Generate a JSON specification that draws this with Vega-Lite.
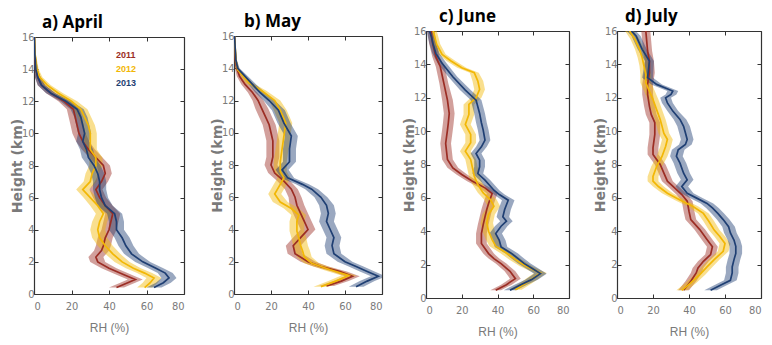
{
"$schema": "https://vega.github.io/schema/vega-lite/v6.json",
"background": "white",
"padding": {"left": 10, "top": 8, "right": 5, "bottom": 3},
"spacing": 19,
"data": {"values": [
{"m":"Apr","yr":"2011","h":0.4,"v":44,"e":4},{"m":"Apr","yr":"2011","h":0.7,"v":50,"e":4},{"m":"Apr","yr":"2011","h":0.9,"v":54,"e":4},{"m":"Apr","yr":"2011","h":1.2,"v":48,"e":4},{"m":"Apr","yr":"2011","h":1.6,"v":40,"e":4},{"m":"Apr","yr":"2011","h":2.0,"v":34,"e":4},{"m":"Apr","yr":"2011","h":2.3,"v":33,"e":4},{"m":"Apr","yr":"2011","h":2.7,"v":36,"e":4},{"m":"Apr","yr":"2011","h":3.0,"v":37,"e":4},{"m":"Apr","yr":"2011","h":3.5,"v":38,"e":4},{"m":"Apr","yr":"2011","h":4.0,"v":40,"e":4},{"m":"Apr","yr":"2011","h":4.5,"v":41,"e":4},{"m":"Apr","yr":"2011","h":5.0,"v":42,"e":4},{"m":"Apr","yr":"2011","h":5.5,"v":38,"e":4},{"m":"Apr","yr":"2011","h":6.0,"v":35,"e":3.5},{"m":"Apr","yr":"2011","h":6.5,"v":33,"e":3.5},{"m":"Apr","yr":"2011","h":7.0,"v":36,"e":3.5},{"m":"Apr","yr":"2011","h":7.5,"v":38,"e":3.5},{"m":"Apr","yr":"2011","h":8.0,"v":37,"e":3.5},{"m":"Apr","yr":"2011","h":8.5,"v":33,"e":3.5},{"m":"Apr","yr":"2011","h":9.0,"v":29,"e":3.5},{"m":"Apr","yr":"2011","h":9.5,"v":26,"e":3.5},{"m":"Apr","yr":"2011","h":10.0,"v":24,"e":3.5},{"m":"Apr","yr":"2011","h":10.5,"v":23,"e":3.5},{"m":"Apr","yr":"2011","h":11.0,"v":22,"e":3.5},{"m":"Apr","yr":"2011","h":11.5,"v":21,"e":3.5},{"m":"Apr","yr":"2011","h":12.0,"v":16,"e":3},{"m":"Apr","yr":"2011","h":12.5,"v":9,"e":2.5},{"m":"Apr","yr":"2011","h":13.0,"v":4,"e":2},{"m":"Apr","yr":"2011","h":13.5,"v":2,"e":1.5},{"m":"Apr","yr":"2011","h":14.0,"v":1,"e":1},{"m":"Apr","yr":"2011","h":15.0,"v":0.4,"e":0.4},{"m":"Apr","yr":"2011","h":16.0,"v":0.2,"e":0.2},
{"m":"Apr","yr":"2012","h":0.4,"v":59,"e":4},{"m":"Apr","yr":"2012","h":0.7,"v":62,"e":4},{"m":"Apr","yr":"2012","h":1.0,"v":64,"e":4},{"m":"Apr","yr":"2012","h":1.3,"v":59,"e":4},{"m":"Apr","yr":"2012","h":1.6,"v":53,"e":4},{"m":"Apr","yr":"2012","h":2.0,"v":47,"e":4},{"m":"Apr","yr":"2012","h":2.5,"v":42,"e":4},{"m":"Apr","yr":"2012","h":3.0,"v":38,"e":4},{"m":"Apr","yr":"2012","h":3.5,"v":35,"e":4},{"m":"Apr","yr":"2012","h":4.0,"v":34,"e":4},{"m":"Apr","yr":"2012","h":4.5,"v":35,"e":4},{"m":"Apr","yr":"2012","h":5.0,"v":37,"e":4},{"m":"Apr","yr":"2012","h":5.5,"v":34,"e":4},{"m":"Apr","yr":"2012","h":6.0,"v":30,"e":3.5},{"m":"Apr","yr":"2012","h":6.5,"v":26,"e":3.5},{"m":"Apr","yr":"2012","h":7.0,"v":30,"e":3.5},{"m":"Apr","yr":"2012","h":7.5,"v":31,"e":3.5},{"m":"Apr","yr":"2012","h":8.0,"v":33,"e":3.5},{"m":"Apr","yr":"2012","h":8.5,"v":33,"e":3.5},{"m":"Apr","yr":"2012","h":9.0,"v":30,"e":3.5},{"m":"Apr","yr":"2012","h":9.5,"v":30,"e":3.5},{"m":"Apr","yr":"2012","h":10.0,"v":30,"e":3.5},{"m":"Apr","yr":"2012","h":10.5,"v":29,"e":3.5},{"m":"Apr","yr":"2012","h":11.0,"v":27,"e":3.5},{"m":"Apr","yr":"2012","h":11.5,"v":25,"e":3.5},{"m":"Apr","yr":"2012","h":12.0,"v":20,"e":3},{"m":"Apr","yr":"2012","h":12.5,"v":13,"e":2.5},{"m":"Apr","yr":"2012","h":13.0,"v":7,"e":2},{"m":"Apr","yr":"2012","h":13.5,"v":3,"e":1.5},{"m":"Apr","yr":"2012","h":14.0,"v":1.5,"e":1},{"m":"Apr","yr":"2012","h":15.0,"v":0.5,"e":0.4},{"m":"Apr","yr":"2012","h":16.0,"v":0.3,"e":0.2},
{"m":"Apr","yr":"2013","h":0.4,"v":64,"e":4},{"m":"Apr","yr":"2013","h":0.7,"v":69,"e":4},{"m":"Apr","yr":"2013","h":1.0,"v":72,"e":4},{"m":"Apr","yr":"2013","h":1.3,"v":70,"e":4},{"m":"Apr","yr":"2013","h":1.6,"v":65,"e":4},{"m":"Apr","yr":"2013","h":2.0,"v":58,"e":4},{"m":"Apr","yr":"2013","h":2.5,"v":52,"e":4},{"m":"Apr","yr":"2013","h":3.0,"v":49,"e":4},{"m":"Apr","yr":"2013","h":3.5,"v":47,"e":4},{"m":"Apr","yr":"2013","h":4.0,"v":44,"e":4},{"m":"Apr","yr":"2013","h":4.5,"v":44,"e":4},{"m":"Apr","yr":"2013","h":5.0,"v":43,"e":4},{"m":"Apr","yr":"2013","h":5.5,"v":38,"e":4},{"m":"Apr","yr":"2013","h":6.0,"v":36,"e":3.5},{"m":"Apr","yr":"2013","h":6.5,"v":35,"e":3.5},{"m":"Apr","yr":"2013","h":7.0,"v":35,"e":3.5},{"m":"Apr","yr":"2013","h":7.5,"v":34,"e":3.5},{"m":"Apr","yr":"2013","h":8.0,"v":32,"e":3.5},{"m":"Apr","yr":"2013","h":8.5,"v":29,"e":3.5},{"m":"Apr","yr":"2013","h":9.0,"v":28,"e":3.5},{"m":"Apr","yr":"2013","h":9.5,"v":26,"e":3.5},{"m":"Apr","yr":"2013","h":10.0,"v":27,"e":3.5},{"m":"Apr","yr":"2013","h":10.5,"v":26,"e":3.5},{"m":"Apr","yr":"2013","h":11.0,"v":25,"e":3.5},{"m":"Apr","yr":"2013","h":11.5,"v":23,"e":3.5},{"m":"Apr","yr":"2013","h":12.0,"v":17,"e":3},{"m":"Apr","yr":"2013","h":12.5,"v":9,"e":2.5},{"m":"Apr","yr":"2013","h":13.0,"v":4,"e":2},{"m":"Apr","yr":"2013","h":13.5,"v":2,"e":1.5},{"m":"Apr","yr":"2013","h":14.0,"v":1,"e":1},{"m":"Apr","yr":"2013","h":15.0,"v":0.4,"e":0.4},{"m":"Apr","yr":"2013","h":16.0,"v":0.2,"e":0.2},
{"m":"May","yr":"2011","h":0.5,"v":50,"e":4},{"m":"May","yr":"2011","h":0.8,"v":58,"e":4},{"m":"May","yr":"2011","h":1.1,"v":64,"e":4},{"m":"May","yr":"2011","h":1.4,"v":57,"e":4},{"m":"May","yr":"2011","h":1.7,"v":47,"e":4},{"m":"May","yr":"2011","h":2.0,"v":40,"e":4},{"m":"May","yr":"2011","h":2.5,"v":33,"e":4},{"m":"May","yr":"2011","h":3.0,"v":32,"e":4},{"m":"May","yr":"2011","h":3.5,"v":36,"e":4},{"m":"May","yr":"2011","h":4.0,"v":40,"e":4},{"m":"May","yr":"2011","h":4.5,"v":38,"e":4},{"m":"May","yr":"2011","h":5.0,"v":36,"e":4},{"m":"May","yr":"2011","h":5.5,"v":34,"e":4},{"m":"May","yr":"2011","h":6.0,"v":33,"e":3.5},{"m":"May","yr":"2011","h":6.5,"v":31,"e":3.5},{"m":"May","yr":"2011","h":7.0,"v":27,"e":3.5},{"m":"May","yr":"2011","h":7.5,"v":22,"e":3.5},{"m":"May","yr":"2011","h":8.0,"v":20,"e":3.5},{"m":"May","yr":"2011","h":8.5,"v":21,"e":3.5},{"m":"May","yr":"2011","h":9.0,"v":21,"e":3.5},{"m":"May","yr":"2011","h":9.5,"v":21,"e":3.5},{"m":"May","yr":"2011","h":10.0,"v":20,"e":3.5},{"m":"May","yr":"2011","h":10.5,"v":19,"e":3.5},{"m":"May","yr":"2011","h":11.0,"v":17,"e":3.5},{"m":"May","yr":"2011","h":11.5,"v":15,"e":3.5},{"m":"May","yr":"2011","h":12.0,"v":13,"e":3},{"m":"May","yr":"2011","h":12.5,"v":10,"e":2.5},{"m":"May","yr":"2011","h":13.0,"v":6,"e":2},{"m":"May","yr":"2011","h":13.5,"v":3,"e":1.5},{"m":"May","yr":"2011","h":14.0,"v":1.5,"e":1},{"m":"May","yr":"2011","h":14.5,"v":0.8,"e":0.6},{"m":"May","yr":"2011","h":16.0,"v":0.3,"e":0.2},
{"m":"May","yr":"2012","h":0.45,"v":47,"e":4},{"m":"May","yr":"2012","h":0.8,"v":55,"e":4},{"m":"May","yr":"2012","h":1.15,"v":62,"e":4},{"m":"May","yr":"2012","h":1.5,"v":52,"e":4},{"m":"May","yr":"2012","h":1.9,"v":42,"e":4},{"m":"May","yr":"2012","h":2.3,"v":38,"e":4},{"m":"May","yr":"2012","h":2.7,"v":37,"e":4},{"m":"May","yr":"2012","h":3.0,"v":36,"e":4},{"m":"May","yr":"2012","h":3.5,"v":35,"e":4},{"m":"May","yr":"2012","h":3.9,"v":34,"e":4},{"m":"May","yr":"2012","h":4.5,"v":34,"e":4},{"m":"May","yr":"2012","h":4.9,"v":35,"e":4},{"m":"May","yr":"2012","h":5.3,"v":31,"e":4},{"m":"May","yr":"2012","h":5.7,"v":25,"e":4},{"m":"May","yr":"2012","h":6.2,"v":22,"e":3.5},{"m":"May","yr":"2012","h":6.8,"v":25,"e":3.5},{"m":"May","yr":"2012","h":7.2,"v":27,"e":3.5},{"m":"May","yr":"2012","h":7.6,"v":25,"e":3.5},{"m":"May","yr":"2012","h":8.2,"v":25,"e":3.5},{"m":"May","yr":"2012","h":9.0,"v":26,"e":3.5},{"m":"May","yr":"2012","h":9.8,"v":27,"e":3.5},{"m":"May","yr":"2012","h":10.6,"v":28,"e":3.5},{"m":"May","yr":"2012","h":11.4,"v":25,"e":3.5},{"m":"May","yr":"2012","h":12.0,"v":22,"e":3},{"m":"May","yr":"2012","h":12.6,"v":15,"e":2.5},{"m":"May","yr":"2012","h":13.1,"v":8,"e":2},{"m":"May","yr":"2012","h":13.5,"v":5,"e":1.5},{"m":"May","yr":"2012","h":13.9,"v":2,"e":1},{"m":"May","yr":"2012","h":14.5,"v":1,"e":0.6},{"m":"May","yr":"2012","h":16.0,"v":0.3,"e":0.2},
{"m":"May","yr":"2013","h":0.45,"v":66,"e":4},{"m":"May","yr":"2013","h":0.8,"v":72,"e":4},{"m":"May","yr":"2013","h":1.1,"v":78,"e":4},{"m":"May","yr":"2013","h":1.4,"v":72,"e":4},{"m":"May","yr":"2013","h":1.7,"v":66,"e":4},{"m":"May","yr":"2013","h":2.0,"v":60,"e":4},{"m":"May","yr":"2013","h":2.5,"v":54,"e":4},{"m":"May","yr":"2013","h":3.0,"v":53,"e":4},{"m":"May","yr":"2013","h":3.5,"v":54,"e":4},{"m":"May","yr":"2013","h":4.0,"v":52,"e":4},{"m":"May","yr":"2013","h":4.5,"v":50,"e":4},{"m":"May","yr":"2013","h":5.0,"v":51,"e":4},{"m":"May","yr":"2013","h":5.5,"v":50,"e":4},{"m":"May","yr":"2013","h":6.0,"v":47,"e":3.5},{"m":"May","yr":"2013","h":6.5,"v":42,"e":3.5},{"m":"May","yr":"2013","h":6.8,"v":37,"e":3.5},{"m":"May","yr":"2013","h":7.2,"v":29,"e":3.5},{"m":"May","yr":"2013","h":7.7,"v":26,"e":3.5},{"m":"May","yr":"2013","h":8.2,"v":30,"e":3.5},{"m":"May","yr":"2013","h":9.0,"v":30,"e":3.5},{"m":"May","yr":"2013","h":9.8,"v":31,"e":3.5},{"m":"May","yr":"2013","h":10.6,"v":27,"e":3.5},{"m":"May","yr":"2013","h":11.4,"v":24,"e":3.5},{"m":"May","yr":"2013","h":12.0,"v":19,"e":3},{"m":"May","yr":"2013","h":12.5,"v":14,"e":2.5},{"m":"May","yr":"2013","h":13.0,"v":10,"e":2},{"m":"May","yr":"2013","h":13.5,"v":6,"e":1.5},{"m":"May","yr":"2013","h":14.0,"v":2,"e":1},{"m":"May","yr":"2013","h":14.5,"v":1,"e":0.6},{"m":"May","yr":"2013","h":16.0,"v":0.3,"e":0.2},
{"m":"Jun","yr":"2011","h":0.46,"v":39,"e":3},{"m":"Jun","yr":"2011","h":0.8,"v":45,"e":3},{"m":"Jun","yr":"2011","h":1.16,"v":50,"e":3},{"m":"Jun","yr":"2011","h":1.6,"v":47,"e":3},{"m":"Jun","yr":"2011","h":2.06,"v":42,"e":3},{"m":"Jun","yr":"2011","h":2.36,"v":38,"e":3},{"m":"Jun","yr":"2011","h":2.66,"v":35,"e":3},{"m":"Jun","yr":"2011","h":3.26,"v":31,"e":3},{"m":"Jun","yr":"2011","h":3.86,"v":31,"e":3},{"m":"Jun","yr":"2011","h":4.4,"v":32,"e":3},{"m":"Jun","yr":"2011","h":4.86,"v":33,"e":3},{"m":"Jun","yr":"2011","h":5.3,"v":34,"e":3},{"m":"Jun","yr":"2011","h":5.66,"v":35,"e":3},{"m":"Jun","yr":"2011","h":6.26,"v":37,"e":3},{"m":"Jun","yr":"2011","h":6.6,"v":33,"e":3},{"m":"Jun","yr":"2011","h":7.0,"v":26,"e":3},{"m":"Jun","yr":"2011","h":7.4,"v":20,"e":3},{"m":"Jun","yr":"2011","h":7.8,"v":15,"e":3},{"m":"Jun","yr":"2011","h":8.3,"v":12,"e":3},{"m":"Jun","yr":"2011","h":9.26,"v":11,"e":3},{"m":"Jun","yr":"2011","h":10.06,"v":12,"e":3},{"m":"Jun","yr":"2011","h":10.5,"v":12.5,"e":3},{"m":"Jun","yr":"2011","h":11.06,"v":13,"e":3},{"m":"Jun","yr":"2011","h":11.86,"v":12,"e":3},{"m":"Jun","yr":"2011","h":12.86,"v":10,"e":2.5},{"m":"Jun","yr":"2011","h":13.86,"v":8,"e":2.5},{"m":"Jun","yr":"2011","h":14.46,"v":5.5,"e":2},{"m":"Jun","yr":"2011","h":15.26,"v":3.7,"e":2},{"m":"Jun","yr":"2011","h":16.0,"v":2.8,"e":2},
{"m":"Jun","yr":"2012","h":0.5,"v":50,"e":3.5},{"m":"Jun","yr":"2012","h":0.9,"v":56,"e":3.5},{"m":"Jun","yr":"2012","h":1.2,"v":60,"e":3.5},{"m":"Jun","yr":"2012","h":1.5,"v":64,"e":3.5},{"m":"Jun","yr":"2012","h":1.9,"v":56,"e":3.5},{"m":"Jun","yr":"2012","h":2.3,"v":50,"e":3.5},{"m":"Jun","yr":"2012","h":2.7,"v":45,"e":3.5},{"m":"Jun","yr":"2012","h":3.1,"v":39,"e":3.5},{"m":"Jun","yr":"2012","h":3.5,"v":37,"e":3.5},{"m":"Jun","yr":"2012","h":4.0,"v":35,"e":3.5},{"m":"Jun","yr":"2012","h":4.5,"v":34,"e":3.5},{"m":"Jun","yr":"2012","h":5.0,"v":35,"e":3.5},{"m":"Jun","yr":"2012","h":5.5,"v":38,"e":3.5},{"m":"Jun","yr":"2012","h":5.9,"v":36,"e":3.5},{"m":"Jun","yr":"2012","h":6.3,"v":32,"e":3},{"m":"Jun","yr":"2012","h":6.8,"v":29,"e":3},{"m":"Jun","yr":"2012","h":7.3,"v":27,"e":3},{"m":"Jun","yr":"2012","h":7.8,"v":26,"e":3},{"m":"Jun","yr":"2012","h":8.3,"v":25,"e":3},{"m":"Jun","yr":"2012","h":8.8,"v":22,"e":3},{"m":"Jun","yr":"2012","h":9.3,"v":25,"e":3},{"m":"Jun","yr":"2012","h":9.8,"v":25,"e":3},{"m":"Jun","yr":"2012","h":10.4,"v":22,"e":3},{"m":"Jun","yr":"2012","h":11.0,"v":24,"e":3},{"m":"Jun","yr":"2012","h":11.6,"v":24,"e":3},{"m":"Jun","yr":"2012","h":12.0,"v":28,"e":3},{"m":"Jun","yr":"2012","h":12.5,"v":30,"e":3},{"m":"Jun","yr":"2012","h":13.0,"v":29,"e":3},{"m":"Jun","yr":"2012","h":13.5,"v":27,"e":2.5},{"m":"Jun","yr":"2012","h":13.8,"v":20,"e":2.5},{"m":"Jun","yr":"2012","h":14.2,"v":14,"e":2.5},{"m":"Jun","yr":"2012","h":14.6,"v":9,"e":2},{"m":"Jun","yr":"2012","h":15.2,"v":6,"e":2},{"m":"Jun","yr":"2012","h":16.0,"v":4,"e":2},
{"m":"Jun","yr":"2013","h":0.46,"v":47,"e":3.5},{"m":"Jun","yr":"2013","h":0.8,"v":53,"e":3.5},{"m":"Jun","yr":"2013","h":1.1,"v":59,"e":3.5},{"m":"Jun","yr":"2013","h":1.46,"v":64,"e":3.5},{"m":"Jun","yr":"2013","h":1.8,"v":59,"e":3.5},{"m":"Jun","yr":"2013","h":2.06,"v":55,"e":3.5},{"m":"Jun","yr":"2013","h":2.4,"v":51,"e":3.5},{"m":"Jun","yr":"2013","h":2.66,"v":48,"e":3.5},{"m":"Jun","yr":"2013","h":3.06,"v":42,"e":3.5},{"m":"Jun","yr":"2013","h":3.46,"v":41,"e":3.5},{"m":"Jun","yr":"2013","h":3.86,"v":39,"e":3.5},{"m":"Jun","yr":"2013","h":4.3,"v":42,"e":3.5},{"m":"Jun","yr":"2013","h":4.6,"v":45,"e":3.5},{"m":"Jun","yr":"2013","h":4.86,"v":43,"e":3.5},{"m":"Jun","yr":"2013","h":5.3,"v":44,"e":3.5},{"m":"Jun","yr":"2013","h":5.86,"v":46,"e":3.5},{"m":"Jun","yr":"2013","h":6.2,"v":41,"e":3},{"m":"Jun","yr":"2013","h":6.46,"v":38,"e":3},{"m":"Jun","yr":"2013","h":7.06,"v":33,"e":3},{"m":"Jun","yr":"2013","h":7.46,"v":29,"e":3},{"m":"Jun","yr":"2013","h":7.86,"v":30,"e":3},{"m":"Jun","yr":"2013","h":8.26,"v":30,"e":3},{"m":"Jun","yr":"2013","h":8.66,"v":28,"e":3},{"m":"Jun","yr":"2013","h":9.06,"v":31,"e":3},{"m":"Jun","yr":"2013","h":9.46,"v":33,"e":3},{"m":"Jun","yr":"2013","h":10.06,"v":32,"e":3},{"m":"Jun","yr":"2013","h":10.5,"v":31,"e":3},{"m":"Jun","yr":"2013","h":11.06,"v":30,"e":3},{"m":"Jun","yr":"2013","h":11.46,"v":29,"e":3},{"m":"Jun","yr":"2013","h":11.86,"v":28,"e":3},{"m":"Jun","yr":"2013","h":12.46,"v":22,"e":3},{"m":"Jun","yr":"2013","h":13.26,"v":15,"e":2.5},{"m":"Jun","yr":"2013","h":14.06,"v":9,"e":2.5},{"m":"Jun","yr":"2013","h":14.66,"v":5.5,"e":2},{"m":"Jun","yr":"2013","h":15.2,"v":4,"e":2},{"m":"Jun","yr":"2013","h":15.66,"v":3,"e":2},{"m":"Jun","yr":"2013","h":16.0,"v":2,"e":1.5},
{"m":"Jul","yr":"2011","h":0.46,"v":37,"e":3},{"m":"Jul","yr":"2011","h":1.0,"v":41,"e":3},{"m":"Jul","yr":"2011","h":1.5,"v":44,"e":3},{"m":"Jul","yr":"2011","h":1.8,"v":45,"e":3},{"m":"Jul","yr":"2011","h":2.2,"v":48,"e":3},{"m":"Jul","yr":"2011","h":2.6,"v":52,"e":3},{"m":"Jul","yr":"2011","h":3.07,"v":53,"e":3},{"m":"Jul","yr":"2011","h":3.5,"v":50,"e":3},{"m":"Jul","yr":"2011","h":4.1,"v":46,"e":3},{"m":"Jul","yr":"2011","h":4.7,"v":41,"e":3},{"m":"Jul","yr":"2011","h":5.2,"v":40,"e":3},{"m":"Jul","yr":"2011","h":5.8,"v":39,"e":3},{"m":"Jul","yr":"2011","h":6.2,"v":36,"e":3},{"m":"Jul","yr":"2011","h":6.6,"v":32,"e":3},{"m":"Jul","yr":"2011","h":7.0,"v":28,"e":3},{"m":"Jul","yr":"2011","h":7.5,"v":26,"e":3},{"m":"Jul","yr":"2011","h":8.0,"v":24,"e":3},{"m":"Jul","yr":"2011","h":8.6,"v":20,"e":3},{"m":"Jul","yr":"2011","h":9.0,"v":20,"e":3},{"m":"Jul","yr":"2011","h":9.8,"v":21,"e":3},{"m":"Jul","yr":"2011","h":10.5,"v":21,"e":3},{"m":"Jul","yr":"2011","h":11.0,"v":19,"e":3},{"m":"Jul","yr":"2011","h":11.5,"v":18,"e":3},{"m":"Jul","yr":"2011","h":12.2,"v":17,"e":3},{"m":"Jul","yr":"2011","h":12.8,"v":17,"e":3},{"m":"Jul","yr":"2011","h":13.5,"v":18,"e":3},{"m":"Jul","yr":"2011","h":14.2,"v":18,"e":2.5},{"m":"Jul","yr":"2011","h":14.8,"v":17,"e":2.5},{"m":"Jul","yr":"2011","h":15.4,"v":16.5,"e":2.5},{"m":"Jul","yr":"2011","h":16.0,"v":16,"e":2.5},
{"m":"Jul","yr":"2012","h":0.46,"v":36,"e":3},{"m":"Jul","yr":"2012","h":0.9,"v":41,"e":3},{"m":"Jul","yr":"2012","h":1.4,"v":46,"e":3},{"m":"Jul","yr":"2012","h":1.86,"v":50,"e":3},{"m":"Jul","yr":"2012","h":2.3,"v":54,"e":3},{"m":"Jul","yr":"2012","h":2.8,"v":59,"e":3},{"m":"Jul","yr":"2012","h":3.27,"v":60,"e":3},{"m":"Jul","yr":"2012","h":3.7,"v":57,"e":3},{"m":"Jul","yr":"2012","h":4.07,"v":54,"e":3},{"m":"Jul","yr":"2012","h":4.6,"v":51,"e":3},{"m":"Jul","yr":"2012","h":5.07,"v":48,"e":3},{"m":"Jul","yr":"2012","h":5.5,"v":42,"e":3},{"m":"Jul","yr":"2012","h":5.87,"v":35,"e":3},{"m":"Jul","yr":"2012","h":6.28,"v":28,"e":3},{"m":"Jul","yr":"2012","h":6.68,"v":23,"e":3},{"m":"Jul","yr":"2012","h":7.0,"v":20,"e":3},{"m":"Jul","yr":"2012","h":7.28,"v":20,"e":3},{"m":"Jul","yr":"2012","h":7.88,"v":22,"e":3},{"m":"Jul","yr":"2012","h":8.48,"v":25,"e":3},{"m":"Jul","yr":"2012","h":9.08,"v":27,"e":3},{"m":"Jul","yr":"2012","h":9.5,"v":28,"e":3},{"m":"Jul","yr":"2012","h":9.88,"v":26,"e":3},{"m":"Jul","yr":"2012","h":10.3,"v":25,"e":3},{"m":"Jul","yr":"2012","h":10.69,"v":24,"e":3},{"m":"Jul","yr":"2012","h":11.29,"v":22,"e":3},{"m":"Jul","yr":"2012","h":11.89,"v":20,"e":3},{"m":"Jul","yr":"2012","h":12.4,"v":18,"e":3},{"m":"Jul","yr":"2012","h":12.9,"v":16,"e":3},{"m":"Jul","yr":"2012","h":13.4,"v":16,"e":3},{"m":"Jul","yr":"2012","h":13.9,"v":15,"e":2.5},{"m":"Jul","yr":"2012","h":14.4,"v":14,"e":2.5},{"m":"Jul","yr":"2012","h":14.9,"v":12.5,"e":2.5},{"m":"Jul","yr":"2012","h":15.5,"v":10,"e":2.5},{"m":"Jul","yr":"2012","h":16.0,"v":7,"e":2.5},
{"m":"Jul","yr":"2013","h":0.46,"v":52,"e":3.5},{"m":"Jul","yr":"2013","h":0.8,"v":58,"e":3.5},{"m":"Jul","yr":"2013","h":1.06,"v":63,"e":3.5},{"m":"Jul","yr":"2013","h":1.5,"v":64,"e":3.5},{"m":"Jul","yr":"2013","h":1.86,"v":64,"e":3.5},{"m":"Jul","yr":"2013","h":2.3,"v":65,"e":3.5},{"m":"Jul","yr":"2013","h":2.67,"v":66,"e":3.5},{"m":"Jul","yr":"2013","h":3.1,"v":66,"e":3.5},{"m":"Jul","yr":"2013","h":3.47,"v":65,"e":3.5},{"m":"Jul","yr":"2013","h":3.9,"v":63,"e":3.5},{"m":"Jul","yr":"2013","h":4.27,"v":62,"e":3.5},{"m":"Jul","yr":"2013","h":4.7,"v":59,"e":3.5},{"m":"Jul","yr":"2013","h":5.07,"v":56,"e":3.5},{"m":"Jul","yr":"2013","h":5.4,"v":53,"e":3.5},{"m":"Jul","yr":"2013","h":5.67,"v":50,"e":3.5},{"m":"Jul","yr":"2013","h":6.0,"v":44,"e":3.5},{"m":"Jul","yr":"2013","h":6.28,"v":39,"e":3.5},{"m":"Jul","yr":"2013","h":6.68,"v":36,"e":3.5},{"m":"Jul","yr":"2013","h":7.08,"v":39,"e":3.5},{"m":"Jul","yr":"2013","h":7.48,"v":37,"e":3.5},{"m":"Jul","yr":"2013","h":8.08,"v":35,"e":3.5},{"m":"Jul","yr":"2013","h":8.5,"v":33,"e":3.5},{"m":"Jul","yr":"2013","h":8.88,"v":34,"e":3.5},{"m":"Jul","yr":"2013","h":9.2,"v":38,"e":3.5},{"m":"Jul","yr":"2013","h":9.5,"v":39,"e":3.5},{"m":"Jul","yr":"2013","h":9.9,"v":38,"e":3.5},{"m":"Jul","yr":"2013","h":10.29,"v":37,"e":3.5},{"m":"Jul","yr":"2013","h":10.7,"v":35,"e":3.5},{"m":"Jul","yr":"2013","h":11.2,"v":31,"e":3},{"m":"Jul","yr":"2013","h":11.69,"v":28,"e":3},{"m":"Jul","yr":"2013","h":12.0,"v":27,"e":3},{"m":"Jul","yr":"2013","h":12.2,"v":30,"e":3},{"m":"Jul","yr":"2013","h":12.4,"v":31,"e":3},{"m":"Jul","yr":"2013","h":12.8,"v":22,"e":3},{"m":"Jul","yr":"2013","h":13.2,"v":17,"e":3},{"m":"Jul","yr":"2013","h":14.2,"v":18,"e":2.5},{"m":"Jul","yr":"2013","h":14.9,"v":14,"e":2.5},{"m":"Jul","yr":"2013","h":15.7,"v":10.6,"e":2.5},{"m":"Jul","yr":"2013","h":16.0,"v":8,"e":2.5}
]},
"resolve": {"scale": {"color": "shared"}},
"hconcat": [
{
"spacing": 25,
"resolve": {"scale": {"color": "shared"}},
"hconcat": [
{
 "width": 150, "height": 267,
 "title": {"text": "a) April", "offset": -1, "dx": 8},
 "transform": [{"filter": "datum.m === 'Apr'"}],
 "layer": [
  {"mark": {"type": "errorband", "orient": "horizontal", "opacity": 0.45, "clip": true},
   "encoding": {
    "y": {"field": "h", "type": "quantitative", "scale": {"domain": [0, 16], "range": [263, 6]}, "axis": {"orient": "left", "title": "Height  (km)", "values": [0,2,4,6,8,10,12,14,16]}},
    "x": {"field": "v", "type": "quantitative", "scale": {"domain": [0, 80]}, "axis": {"orient": "bottom", "title": "RH (%)", "values": [0,20,40,60,80], "offset": -4}},
    "xError": {"field": "e"},
    "color": {"field": "yr", "type": "nominal", "scale": {"domain": ["2011","2012","2013"], "range": ["#9b2d24","#f2b705","#1f3f73"]},
      "legend": {"orient": "none", "legendX": 73, "legendY": 19, "title": null, "symbolSize": 0, "symbolStrokeWidth": 0, "symbolOpacity": 0, "labelOffset": 0, "labelFontSize": 9, "labelFontWeight": "bold", "labelFont": "Liberation Sans", "rowPadding": 4,
        "encode": {"labels": {"update": {"fill": {"scale": "color", "field": "value"}}}}}}
   }},
  {"mark": {"type": "line", "strokeWidth": 1.7, "clip": true},
   "encoding": {
    "y": {"field": "h", "type": "quantitative", "axis": {"orient": "right", "labels": false, "title": null, "values": [0,2,4,6,8,10,12,14,16], "maxExtent": 0, "minExtent": 0}},
    "x": {"field": "v", "type": "quantitative", "axis": {"orient": "top", "labels": false, "title": null, "values": [0,20,40,60,80], "maxExtent": 0, "minExtent": 0, "offset": -6}},
    "color": {"field": "yr", "type": "nominal"},
    "order": {"field": "h", "type": "quantitative"}
   }}
 ],
 "resolve": {"axis": {"x": "independent", "y": "independent"}}
},
{
 "width": 148, "height": 267,
 "title": {"text": "b) May", "offset": -1, "dx": 10},
 "transform": [{"filter": "datum.m === 'May'"}],
 "layer": [
  {"mark": {"type": "errorband", "orient": "horizontal", "opacity": 0.45, "clip": true},
   "encoding": {
    "y": {"field": "h", "type": "quantitative", "scale": {"domain": [0, 16], "range": [263, 5]}, "axis": {"orient": "left", "title": "Height  (km)", "values": [0,2,4,6,8,10,12,14,16]}},
    "x": {"field": "v", "type": "quantitative", "scale": {"domain": [0, 80]}, "axis": {"orient": "bottom", "title": "RH (%)", "values": [0,20,40,60,80], "offset": -4}},
    "xError": {"field": "e"},
    "color": {"field": "yr", "type": "nominal"}
   }},
  {"mark": {"type": "line", "strokeWidth": 1.7, "clip": true},
   "encoding": {
    "y": {"field": "h", "type": "quantitative", "axis": {"orient": "right", "labels": false, "title": null, "values": [0,2,4,6,8,10,12,14,16], "maxExtent": 0, "minExtent": 0}},
    "x": {"field": "v", "type": "quantitative", "axis": {"orient": "top", "labels": false, "title": null, "values": [0,20,40,60,80], "maxExtent": 0, "minExtent": 0, "offset": -5}},
    "color": {"field": "yr", "type": "nominal"},
    "order": {"field": "h", "type": "quantitative"}
   }}
 ],
 "resolve": {"axis": {"x": "independent", "y": "independent"}}
}
]
},
{
"spacing": 23,
"resolve": {"scale": {"color": "shared"}},
"hconcat": [
{
 "width": 143, "height": 267,
 "title": {"text": "c) June", "offset": -1, "dx": 13},
 "transform": [{"filter": "datum.m === 'Jun'"}],
 "layer": [
  {"mark": {"type": "errorband", "orient": "horizontal", "opacity": 0.45, "clip": true},
   "encoding": {
    "y": {"field": "h", "type": "quantitative", "scale": {"domain": [0, 16]}, "axis": {"orient": "left", "title": "Height  (km)", "values": [0,2,4,6,8,10,12,14,16]}},
    "x": {"field": "v", "type": "quantitative", "scale": {"domain": [0, 80]}, "axis": {"orient": "bottom", "title": "RH (%)", "values": [0,20,40,60,80]}},
    "xError": {"field": "e"},
    "color": {"field": "yr", "type": "nominal"}
   }},
  {"mark": {"type": "line", "strokeWidth": 1.7, "clip": true},
   "encoding": {
    "y": {"field": "h", "type": "quantitative", "axis": {"orient": "right", "labels": false, "title": null, "values": [0,2,4,6,8,10,12,14,16], "maxExtent": 0, "minExtent": 0}},
    "x": {"field": "v", "type": "quantitative", "axis": {"orient": "top", "labels": false, "title": null, "values": [0,20,40,60,80], "maxExtent": 0, "minExtent": 0}},
    "color": {"field": "yr", "type": "nominal"},
    "order": {"field": "h", "type": "quantitative"}
   }}
 ],
 "resolve": {"axis": {"x": "independent", "y": "independent"}}
},
{
 "width": 144, "height": 267,
 "title": {"text": "d) July", "offset": -1, "dx": 8},
 "transform": [{"filter": "datum.m === 'Jul'"}],
 "layer": [
  {"mark": {"type": "errorband", "orient": "horizontal", "opacity": 0.45, "clip": true},
   "encoding": {
    "y": {"field": "h", "type": "quantitative", "scale": {"domain": [0, 16]}, "axis": {"orient": "left", "title": "Height  (km)", "values": [0,2,4,6,8,10,12,14,16]}},
    "x": {"field": "v", "type": "quantitative", "scale": {"domain": [0, 80]}, "axis": {"orient": "bottom", "title": "RH (%)", "values": [0,20,40,60,80]}},
    "xError": {"field": "e"},
    "color": {"field": "yr", "type": "nominal"}
   }},
  {"mark": {"type": "line", "strokeWidth": 1.7, "clip": true},
   "encoding": {
    "y": {"field": "h", "type": "quantitative", "axis": {"orient": "right", "labels": false, "title": null, "values": [0,2,4,6,8,10,12,14,16], "maxExtent": 0, "minExtent": 0}},
    "x": {"field": "v", "type": "quantitative", "axis": {"orient": "top", "labels": false, "title": null, "values": [0,20,40,60,80], "maxExtent": 0, "minExtent": 0}},
    "color": {"field": "yr", "type": "nominal"},
    "order": {"field": "h", "type": "quantitative"}
   }}
 ],
 "resolve": {"axis": {"x": "independent", "y": "independent"}}
}
]
}
],
"config": {
 "view": {"stroke": null},
 "title": {"anchor": "start", "frame": "group", "font": "Open Sans", "fontSize": 17, "fontWeight": "bold", "color": "#000000", "baseline": "alphabetic"},
 "axis": {"grid": false, "domain": true, "domainColor": "#333333", "domainWidth": 1.2, "tickColor": "#333333", "tickSize": -4, "labelFont": "Liberation Sans Narrow, DejaVu Sans Condensed, Liberation Sans", "labelFontSize": 11, "labelColor": "#7a7a7a", "titleColor": "#7a7a7a"},
 "axisLeft": {"labelPadding": 4, "titleFont": "DejaVu Sans", "titleFontSize": 14, "titleFontWeight": "bold", "titlePadding": -3},
 "axisBottom": {"labelPadding": 10, "titleFont": "Liberation Sans", "titleFontSize": 12, "titleFontWeight": "normal", "titlePadding": 11}
}
}
